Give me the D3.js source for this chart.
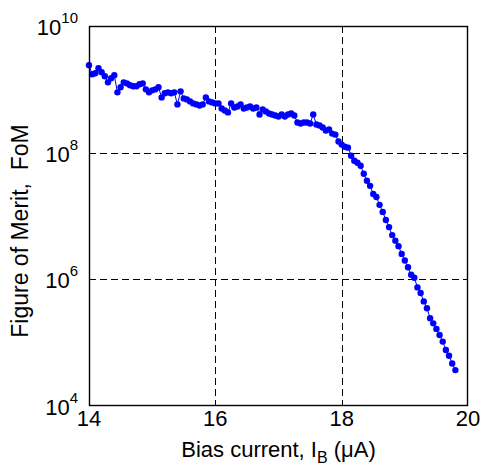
<!DOCTYPE html>
<html>
<head>
<meta charset="utf-8">
<script src="https://cdn.jsdelivr.net/npm/d3@7"></script>
<style>
  body { margin: 0; background: #fff; }
  svg { display: block; font-family: Arial, "Liberation Sans", sans-serif; }
</style>
</head>
<body>
<svg id="chart" width="481" height="467"></svg>
<script>
// bias current, uA (0.05 uA steps)
var biasCurrent = [
  14.00, 14.05, 14.10, 14.15, 14.20, 14.25, 14.30, 14.35, 14.40, 14.45,
  14.50, 14.55, 14.60, 14.65, 14.70, 14.75, 14.80, 14.85, 14.90, 14.95,
  15.00, 15.05, 15.10, 15.15, 15.20, 15.25, 15.30, 15.35, 15.40, 15.45,
  15.50, 15.55, 15.60, 15.65, 15.70, 15.75, 15.80, 15.85, 15.90, 15.95,
  16.00, 16.05, 16.10, 16.15, 16.20, 16.25, 16.30, 16.35, 16.40, 16.45,
  16.50, 16.55, 16.60, 16.65, 16.70, 16.75, 16.80, 16.85, 16.90, 16.95,
  17.00, 17.05, 17.10, 17.15, 17.20, 17.25, 17.30, 17.35, 17.40, 17.45,
  17.50, 17.55, 17.60, 17.65, 17.70, 17.75, 17.80, 17.85, 17.90, 17.95,
  18.00, 18.05, 18.10, 18.15, 18.20, 18.25, 18.30, 18.35, 18.40, 18.45,
  18.50, 18.55, 18.60, 18.65, 18.70, 18.75, 18.80, 18.85, 18.90, 18.95,
  19.00, 19.05, 19.10, 19.15, 19.20, 19.25, 19.30, 19.35, 19.40, 19.45,
  19.50, 19.55, 19.60, 19.65, 19.70, 19.75, 19.80
];

// figure of merit
var fom = [
  2.40e9, 1.73e9, 1.79e9, 2.15e9, 1.86e9, 1.61e9, 1.29e9, 1.50e9, 1.67e9, 8.96e8,
  1.08e9, 1.29e9, 1.24e9, 1.16e9, 1.12e9, 1.12e9, 1.20e9, 1.24e9, 1.00e9, 8.96e8,
  9.64e8, 1.00e9, 1.08e9, 7.46e8, 8.65e8, 8.96e8, 8.65e8, 8.96e8, 5.78e8, 9.29e8,
  7.19e8, 6.93e8, 6.45e8, 6.00e8, 5.78e8, 5.57e8, 5.78e8, 7.46e8, 6.45e8, 6.22e8,
  6.00e8, 6.00e8, 4.99e8, 4.64e8, 4.32e8, 6.00e8, 5.18e8, 5.37e8, 5.78e8, 4.99e8,
  5.18e8, 5.37e8, 4.99e8, 5.18e8, 4.01e8, 4.82e8, 4.48e8, 4.16e8, 4.01e8, 3.86e8,
  3.73e8, 4.01e8, 3.73e8, 4.01e8, 4.16e8, 3.86e8, 2.99e8, 2.88e8, 2.99e8, 2.99e8,
  2.88e8, 4.01e8, 2.78e8, 2.68e8, 2.50e8, 2.23e8, 2.32e8, 2.00e8, 1.93e8, 1.50e8,
  1.34e8, 1.24e8, 1.20e8, 8.96e7, 7.46e7, 6.93e7, 6.22e7, 4.64e7, 3.60e7, 2.99e7,
  2.23e7, 2.00e7, 1.50e7, 1.16e7, 8.65e6, 6.68e6, 4.99e6, 4.08e6, 3.34e6, 2.52e6,
  1.98e6, 1.55e6, 1.18e6, 1.06e6, 7.46e5, 6.07e5, 4.48e5, 3.50e5, 2.43e5, 2.02e5,
  1.65e5, 1.32e5, 1.04e5, 7.66e4, 6.22e4, 4.69e4, 3.69e4
];

var xTicks = [14, 16, 18, 20];
var yExponents = [4, 6, 8, 10];

var plotLeft = 89, plotRight = 468, plotTop = 26, plotBottom = 406;

var svg = d3.select("#chart");

var x = d3.scaleLinear().domain([14, 20]).range([plotLeft, plotRight]);
var y = d3.scaleLog().domain([1e4, 1e10]).range([plotBottom, plotTop]);

var data = biasCurrent.map(function (b, i) {
  return { x: b, y: fom[i] };
});

// dashed grid (inner ticks only)
var grid = svg.append("g").attr("stroke", "#000").attr("stroke-width", 1)
  .attr("stroke-dasharray", "7,4").attr("shape-rendering", "crispEdges");
grid.selectAll(".vg").data(xTicks.slice(1, -1)).enter().append("line")
  .attr("x1", function (d) { return Math.round(x(d)) + 0.5; })
  .attr("x2", function (d) { return Math.round(x(d)) + 0.5; })
  .attr("y1", plotTop).attr("y2", plotBottom);
grid.selectAll(".hg").data(yExponents.slice(1, -1)).enter().append("line")
  .attr("y1", function (d) { return Math.round(y(Math.pow(10, d))) + 0.5; })
  .attr("y2", function (d) { return Math.round(y(Math.pow(10, d))) + 0.5; })
  .attr("x1", plotLeft).attr("x2", plotRight);

// series
var line = d3.line()
  .x(function (d) { return x(d.x); })
  .y(function (d) { return y(d.y); });

svg.append("path").datum(data)
  .attr("fill", "none").attr("stroke", "#0000ff").attr("stroke-width", 1)
  .attr("d", line);

svg.append("g").selectAll("circle").data(data).enter().append("circle")
  .attr("cx", function (d) { return x(d.x); })
  .attr("cy", function (d) { return y(d.y); })
  .attr("r", 3.2)
  .attr("fill", "#0000ff");

// box
svg.append("rect")
  .attr("x", plotLeft + 0.5).attr("y", plotTop + 0.5)
  .attr("width", plotRight - plotLeft - 1).attr("height", plotBottom - plotTop - 1)
  .attr("fill", "none").attr("stroke", "#000").attr("stroke-width", 1.4);

// x tick labels
svg.append("g").selectAll("text").data(xTicks).enter().append("text")
  .attr("x", function (d) { return x(d); })
  .attr("y", plotBottom + 20)
  .attr("text-anchor", "middle")
  .attr("font-size", 22)
  .text(function (d) { return d; });

// y tick labels 10^n
var yl = svg.append("g").selectAll("text").data(yExponents).enter().append("text")
  .attr("x", plotLeft - 11)
  .attr("y", function (d) { return y(Math.pow(10, d)) + 9; })
  .attr("text-anchor", "end")
  .attr("font-size", 22);
yl.append("tspan").text("10");
yl.append("tspan").attr("font-size", 15).attr("dy", -12)
  .text(function (d) { return d; });

// axis labels
var xl = svg.append("text")
  .attr("x", (plotLeft + plotRight) / 2)
  .attr("y", 457)
  .attr("text-anchor", "middle")
  .attr("font-size", 22);
xl.append("tspan").text("Bias current, I");
xl.append("tspan").attr("font-size", 16).attr("dy", 6).text("B");
xl.append("tspan").attr("dy", -6).text(" (\u03bcA)");

svg.append("text")
  .attr("transform", "translate(28,231) rotate(-90)")
  .attr("text-anchor", "middle")
  .attr("font-size", 23)
  .attr("xml:space", "preserve")
  .style("white-space", "pre")
  .text("Figure of Merit,  FoM");
</script>
</body>
</html>
